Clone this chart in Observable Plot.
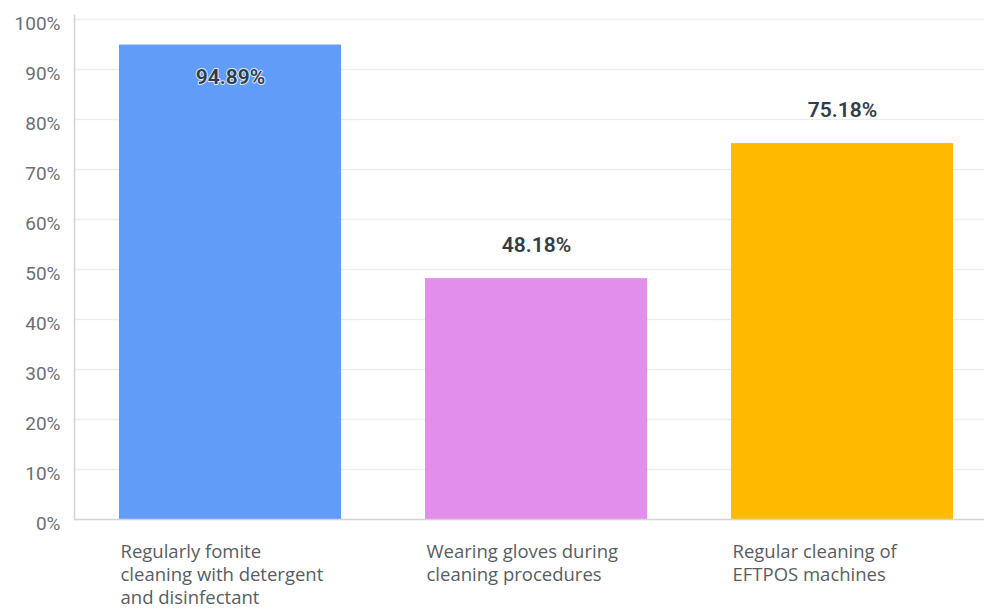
<!DOCTYPE html>
<html>
<head>
<meta charset="utf-8">
<script src="https://cdn.jsdelivr.net/npm/d3@7"></script>
<script src="https://cdn.jsdelivr.net/npm/@observablehq/plot@0.6"></script>
<style>
  html, body { margin: 0; padding: 0; background: #fff; }
  #chart svg { display: block; }
</style>
</head>
<body>
<div id="chart"></div>
<script>
const categories = [
  "Regularly fomite\ncleaning with detergent\nand disinfectant",
  "Wearing gloves during\ncleaning procedures",
  "Regular cleaning of\nEFTPOS machines"
];
const values = [94.89, 48.18, 75.18];
const colors = ["#619cf8", "#e28fec", "#ffbb00"];
const yTicks = [0, 10, 20, 30, 40, 50, 60, 70, 80, 90, 100];

const data = categories.map((c, i) => ({category: c, value: values[i], color: colors[i]}));
const FONT = "Roboto, 'Open Sans', sans-serif";
const inside = data.filter(d => d.value > 90);
const outside = data.filter(d => d.value <= 90);
const labelFmt = d => d.value.toFixed(2) + "%";

const chart = Plot.plot({
  width: 984,
  height: 609,
  marginLeft: 74,
  marginRight: 0,
  marginTop: 15,
  marginBottom: 90,
  style: {fontFamily: FONT, background: "#fff"},
  x: {type: "band", domain: categories, range: [118, 953], paddingInner: 0.276, paddingOuter: 0, axis: null},
  y: {domain: [0, 100], range: [519, 19], axis: null},
  marks: [
    Plot.ruleY(yTicks.filter(d => d > 0), {y: d => d, stroke: "#ededed", strokeWidth: 1.5}),
    Plot.barY(data, {x: "category", y: "value", fill: "color"}),
    Plot.ruleY([0], {stroke: "#d3d3d3", strokeWidth: 1.5}),
    Plot.frame({anchor: "left", stroke: "#d3d3d3", strokeWidth: 1.5}),
    Plot.text(yTicks, {
      y: d => d, text: d => d + "%", frameAnchor: "left", textAnchor: "end", dx: -14, dy: 4,
      fill: "#6b6f74", fontSize: 19
    }),
    Plot.text(inside, {
      x: "category", y: "value", text: labelFmt, dy: 32,
      fill: "#333d47", fontSize: 21, fontWeight: 600,
      stroke: "#ffffff", strokeWidth: 2, strokeOpacity: 0.8, paintOrder: "stroke"
    }),
    Plot.text(outside, {
      x: "category", y: "value", text: labelFmt, dy: -33,
      fill: "#333d47", fontSize: 21, fontWeight: 600
    }),
    Plot.text(data, {
      x: "category", y: 0, text: "category", textAnchor: "start", lineAnchor: "top",
      dx: -110, dy: 22, lineHeight: 1.25, fill: "#575d63", fontSize: 18.5,
      fontFamily: "'Open Sans', sans-serif"
    })
  ]
});
document.getElementById("chart").appendChild(chart);
</script>
</body>
</html>
